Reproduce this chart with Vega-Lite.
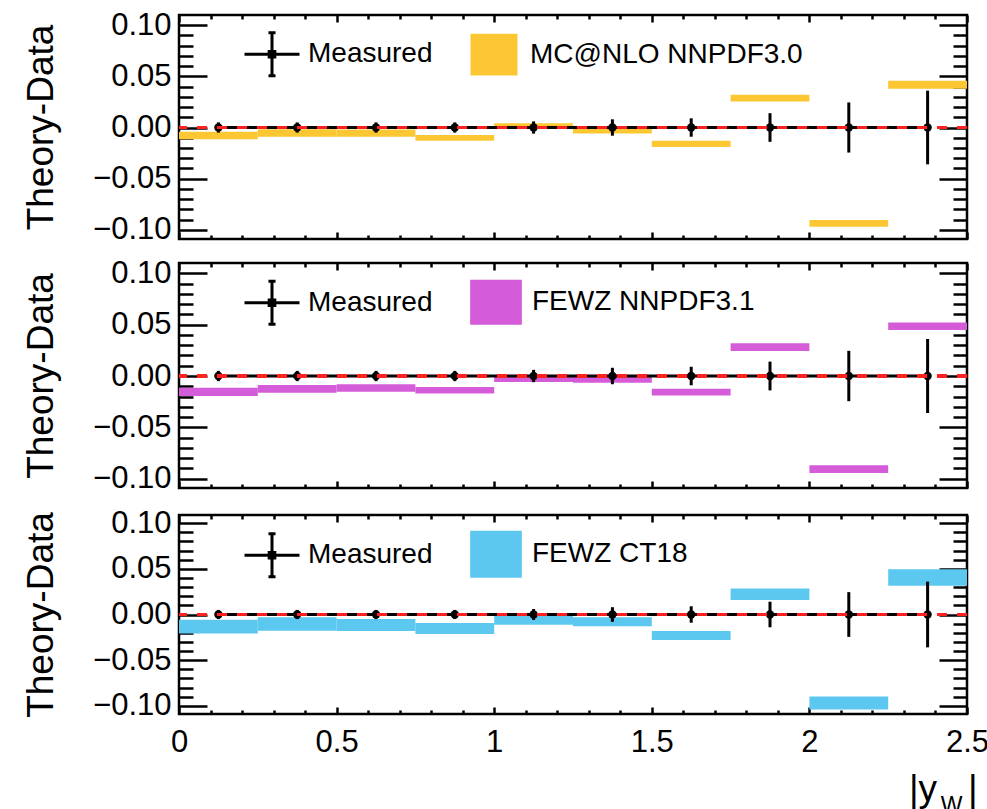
{
  "$schema": "https://vega.github.io/schema/vega-lite/v6.json",
  "background": "white",
  "padding": {"left": 20, "top": 7, "right": 0, "bottom": 0},
  "spacing": 9,
  "resolve": {"scale": {"color": "independent"}, "legend": {"color": "independent"}},
  "config": {
    "font": "Liberation Sans",
    "view": {"stroke": "black", "strokeWidth": 2.5},
    "axis": {"domain": false, "grid": false, "tickColor": "black", "tickWidth": 2.5, "labelFont": "Liberation Sans", "labelColor": "black", "titleFont": "Liberation Sans", "titleColor": "black", "titleFontWeight": "normal", "labelOverlap": false, "labelFlush": false, "labelBound": false},
    "legend": {"labelFont": "Liberation Sans", "labelColor": "black", "labelLimit": 0}
  },
  "datasets": {
    "mc": [
      {"model": "MC@NLO NNPDF3.0", "xlo": 0, "xhi": 0.25, "xc": 0.125, "tlo": -0.0115, "thi": -0.0042, "meas": 0, "elo": -0.005, "ehi": 0.005},
      {"model": "MC@NLO NNPDF3.0", "xlo": 0.25, "xhi": 0.5, "xc": 0.375, "tlo": -0.0091, "thi": -0.0017, "meas": 0, "elo": -0.005, "ehi": 0.005},
      {"model": "MC@NLO NNPDF3.0", "xlo": 0.5, "xhi": 0.75, "xc": 0.625, "tlo": -0.009, "thi": -0.002, "meas": 0, "elo": -0.005, "ehi": 0.005},
      {"model": "MC@NLO NNPDF3.0", "xlo": 0.75, "xhi": 1.0, "xc": 0.875, "tlo": -0.013, "thi": -0.0072, "meas": 0, "elo": -0.005, "ehi": 0.005},
      {"model": "MC@NLO NNPDF3.0", "xlo": 1.0, "xhi": 1.25, "xc": 1.125, "tlo": -0.001, "thi": 0.0042, "meas": 0, "elo": -0.006, "ehi": 0.006},
      {"model": "MC@NLO NNPDF3.0", "xlo": 1.25, "xhi": 1.5, "xc": 1.375, "tlo": -0.0058, "thi": -0.0003, "meas": 0, "elo": -0.008, "ehi": 0.008},
      {"model": "MC@NLO NNPDF3.0", "xlo": 1.5, "xhi": 1.75, "xc": 1.625, "tlo": -0.019, "thi": -0.013, "meas": 0, "elo": -0.009, "ehi": 0.009},
      {"model": "MC@NLO NNPDF3.0", "xlo": 1.75, "xhi": 2.0, "xc": 1.875, "tlo": 0.0255, "thi": 0.032, "meas": 0, "elo": -0.014, "ehi": 0.014},
      {"model": "MC@NLO NNPDF3.0", "xlo": 2.0, "xhi": 2.25, "xc": 2.125, "tlo": -0.097, "thi": -0.0905, "meas": 0, "elo": -0.0245, "ehi": 0.0245},
      {"model": "MC@NLO NNPDF3.0", "xlo": 2.25, "xhi": 2.5, "xc": 2.375, "tlo": 0.038, "thi": 0.0458, "meas": 0, "elo": -0.036, "ehi": 0.036}
    ],
    "nn": [
      {"model": "FEWZ NNPDF3.1", "xlo": 0, "xhi": 0.25, "xc": 0.125, "tlo": -0.0195, "thi": -0.0114, "meas": 0, "elo": -0.005, "ehi": 0.005},
      {"model": "FEWZ NNPDF3.1", "xlo": 0.25, "xhi": 0.5, "xc": 0.375, "tlo": -0.0163, "thi": -0.0088, "meas": 0, "elo": -0.005, "ehi": 0.005},
      {"model": "FEWZ NNPDF3.1", "xlo": 0.5, "xhi": 0.75, "xc": 0.625, "tlo": -0.0153, "thi": -0.0081, "meas": 0, "elo": -0.005, "ehi": 0.005},
      {"model": "FEWZ NNPDF3.1", "xlo": 0.75, "xhi": 1.0, "xc": 0.875, "tlo": -0.017, "thi": -0.0107, "meas": 0, "elo": -0.005, "ehi": 0.005},
      {"model": "FEWZ NNPDF3.1", "xlo": 1.0, "xhi": 1.25, "xc": 1.125, "tlo": -0.0059, "thi": -0.0007, "meas": 0, "elo": -0.006, "ehi": 0.006},
      {"model": "FEWZ NNPDF3.1", "xlo": 1.25, "xhi": 1.5, "xc": 1.375, "tlo": -0.0065, "thi": -0.0007, "meas": 0, "elo": -0.008, "ehi": 0.008},
      {"model": "FEWZ NNPDF3.1", "xlo": 1.5, "xhi": 1.75, "xc": 1.625, "tlo": -0.019, "thi": -0.0124, "meas": 0, "elo": -0.009, "ehi": 0.009},
      {"model": "FEWZ NNPDF3.1", "xlo": 1.75, "xhi": 2.0, "xc": 1.875, "tlo": 0.0244, "thi": 0.032, "meas": 0, "elo": -0.014, "ehi": 0.014},
      {"model": "FEWZ NNPDF3.1", "xlo": 2.0, "xhi": 2.25, "xc": 2.125, "tlo": -0.0943, "thi": -0.0868, "meas": 0, "elo": -0.0245, "ehi": 0.0245},
      {"model": "FEWZ NNPDF3.1", "xlo": 2.25, "xhi": 2.5, "xc": 2.375, "tlo": 0.0449, "thi": 0.052, "meas": 0, "elo": -0.036, "ehi": 0.036}
    ],
    "ct": [
      {"model": "FEWZ CT18", "xlo": 0, "xhi": 0.25, "xc": 0.125, "tlo": -0.0208, "thi": -0.0058, "meas": 0, "elo": -0.005, "ehi": 0.005},
      {"model": "FEWZ CT18", "xlo": 0.25, "xhi": 0.5, "xc": 0.375, "tlo": -0.0179, "thi": -0.003, "meas": 0, "elo": -0.005, "ehi": 0.005},
      {"model": "FEWZ CT18", "xlo": 0.5, "xhi": 0.75, "xc": 0.625, "tlo": -0.018, "thi": -0.005, "meas": 0, "elo": -0.005, "ehi": 0.005},
      {"model": "FEWZ CT18", "xlo": 0.75, "xhi": 1.0, "xc": 0.875, "tlo": -0.0213, "thi": -0.0092, "meas": 0, "elo": -0.005, "ehi": 0.005},
      {"model": "FEWZ CT18", "xlo": 1.0, "xhi": 1.25, "xc": 1.125, "tlo": -0.0113, "thi": -0.0011, "meas": 0, "elo": -0.006, "ehi": 0.006},
      {"model": "FEWZ CT18", "xlo": 1.25, "xhi": 1.5, "xc": 1.375, "tlo": -0.013, "thi": -0.003, "meas": 0, "elo": -0.008, "ehi": 0.008},
      {"model": "FEWZ CT18", "xlo": 1.5, "xhi": 1.75, "xc": 1.625, "tlo": -0.028, "thi": -0.018, "meas": 0, "elo": -0.009, "ehi": 0.009},
      {"model": "FEWZ CT18", "xlo": 1.75, "xhi": 2.0, "xc": 1.875, "tlo": 0.016, "thi": 0.0286, "meas": 0, "elo": -0.014, "ehi": 0.014},
      {"model": "FEWZ CT18", "xlo": 2.0, "xhi": 2.25, "xc": 2.125, "tlo": -0.104, "thi": -0.0897, "meas": 0, "elo": -0.0245, "ehi": 0.0245},
      {"model": "FEWZ CT18", "xlo": 2.25, "xhi": 2.5, "xc": 2.375, "tlo": 0.0314, "thi": 0.0496, "meas": 0, "elo": -0.036, "ehi": 0.036}
    ]
  },
  "vconcat": [
    {
      "width": 788, "height": 224,
      "data": {"name": "mc"},
      "resolve": {"axis": {"x": "independent", "y": "independent"}},
      "layer": [
        {"mark": {"type": "rect"},
         "encoding": {
           "x": {"field": "xlo", "type": "quantitative", "scale": {"domain": [0, 2.5], "nice": false, "zero": false},
                 "axis": {"orient": "bottom", "values": [0,0.1,0.2,0.3,0.4,0.5,0.6,0.7,0.8,0.9,1,1.1,1.2,1.3,1.4,1.5,1.6,1.7,1.8,1.9,2,2.1,2.2,2.3,2.4,2.5], "labels": false, "title": null,
                          "tickSize": {"condition": {"test": "abs(datum.value*2 - round(datum.value*2)) < 0.001", "value": -7}, "value": -4}}},
           "x2": {"field": "xhi"},
           "y": {"field": "tlo", "type": "quantitative", "scale": {"domain": [-0.109, 0.11], "nice": false, "zero": false},
                 "axis": {"orient": "left", "values": [-0.1,-0.09,-0.08,-0.07,-0.06,-0.05,-0.04,-0.03,-0.02,-0.01,0,0.01,0.02,0.03,0.04,0.05,0.06,0.07,0.08,0.09,0.1],
                          "tickSize": {"condition": {"test": "abs(datum.value*20 - round(datum.value*20)) < 0.001", "value": -28}, "value": -14},
                          "labelExpr": "abs(datum.value*20 - round(datum.value*20)) < 0.001 ? format(datum.value, '.2f') : ''",
                          "labelFontSize": 31, "labelPadding": 36,
                          "title": "Theory-Data", "titleFontSize": 37, "titleX": -127, "titleBaseline": "alphabetic", "titleAngle": 270}},
           "y2": {"field": "thi"},
           "color": {"field": "model", "type": "nominal",
                     "scale": {"domain": ["Measured", "MC@NLO NNPDF3.0"], "range": ["black", "#fcc733"]},
                     "legend": {"title": null, "orient": "none", "legendX": 68, "legendY": 14, "direction": "horizontal", "padding": 0,
                                "symbolSize": 2209, "labelFontSize": 28, "labelOffset": 11, "columnPadding": 31, "symbolStrokeWidth": 3,
                                "encode": {"symbols": {"update": {
                                  "shape": {"signal": "datum.value === 'Measured' ? 'M-1.17,0H1.17M0,-0.915V0.915M-0.15,-0.915H0.15M-0.15,0.915H0.15M-0.12,-0.12H0.12V0.12H-0.12Z' : 'M-1,-0.89H1V0.89H-1Z'"},
                                  "stroke": {"signal": "datum.value === 'Measured' ? 'black' : 'transparent'"},
                                  "strokeWidth": {"value": 3},
                                  "fill": {"signal": "datum.value === 'Measured' ? 'black' : '#fcc733'"},
                                  "opacity": {"value": 1}, "fillOpacity": {"value": 1}}}}}}
         }},
        {"mark": {"type": "rule", "color": "black", "strokeWidth": 3},
         "encoding": {
           "x": {"field": "xc", "type": "quantitative",
                 "axis": {"orient": "top", "values": [0,0.1,0.2,0.3,0.4,0.5,0.6,0.7,0.8,0.9,1,1.1,1.2,1.3,1.4,1.5,1.6,1.7,1.8,1.9,2,2.1,2.2,2.3,2.4,2.5], "labels": false, "title": null,
                          "tickSize": {"condition": {"test": "abs(datum.value*2 - round(datum.value*2)) < 0.001", "value": -7}, "value": -4}}},
           "y": {"field": "elo", "type": "quantitative",
                 "axis": {"orient": "right", "values": [-0.1,-0.09,-0.08,-0.07,-0.06,-0.05,-0.04,-0.03,-0.02,-0.01,0,0.01,0.02,0.03,0.04,0.05,0.06,0.07,0.08,0.09,0.1], "labels": false, "title": null,
                          "tickSize": {"condition": {"test": "abs(datum.value*20 - round(datum.value*20)) < 0.001", "value": -28}, "value": -14}}},
           "y2": {"field": "ehi"}
         }},
        {"mark": {"type": "line", "color": "black", "strokeWidth": 3},
         "encoding": {"x": {"field": "xc", "type": "quantitative", "axis": null}, "y": {"field": "meas", "type": "quantitative", "axis": null}}},
        {"mark": {"type": "point", "filled": true, "color": "black", "size": 70, "opacity": 1},
         "encoding": {"x": {"field": "xc", "type": "quantitative", "axis": null}, "y": {"field": "meas", "type": "quantitative", "axis": null}}},
        {"mark": {"type": "rule", "color": "#ff2020", "strokeWidth": 3, "strokeDash": [10, 10]},
         "encoding": {"y": {"datum": 0, "type": "quantitative", "axis": null}}}
      ]
    },
    {
      "width": 788, "height": 225,
      "data": {"name": "nn"},
      "resolve": {"axis": {"x": "independent", "y": "independent"}},
      "layer": [
        {"mark": {"type": "rect"},
         "encoding": {
           "x": {"field": "xlo", "type": "quantitative", "scale": {"domain": [0, 2.5], "nice": false, "zero": false},
                 "axis": {"orient": "bottom", "values": [0,0.1,0.2,0.3,0.4,0.5,0.6,0.7,0.8,0.9,1,1.1,1.2,1.3,1.4,1.5,1.6,1.7,1.8,1.9,2,2.1,2.2,2.3,2.4,2.5], "labels": false, "title": null,
                          "tickSize": {"condition": {"test": "abs(datum.value*2 - round(datum.value*2)) < 0.001", "value": -7}, "value": -4}}},
           "x2": {"field": "xhi"},
           "y": {"field": "tlo", "type": "quantitative", "scale": {"domain": [-0.109, 0.11], "nice": false, "zero": false},
                 "axis": {"orient": "left", "values": [-0.1,-0.09,-0.08,-0.07,-0.06,-0.05,-0.04,-0.03,-0.02,-0.01,0,0.01,0.02,0.03,0.04,0.05,0.06,0.07,0.08,0.09,0.1],
                          "tickSize": {"condition": {"test": "abs(datum.value*20 - round(datum.value*20)) < 0.001", "value": -28}, "value": -14},
                          "labelExpr": "abs(datum.value*20 - round(datum.value*20)) < 0.001 ? format(datum.value, '.2f') : ''",
                          "labelFontSize": 31, "labelPadding": 36,
                          "title": "Theory-Data", "titleFontSize": 37, "titleX": -127, "titleBaseline": "alphabetic", "titleAngle": 270}},
           "y2": {"field": "thi"},
           "color": {"field": "model", "type": "nominal",
                     "scale": {"domain": ["Measured", "FEWZ NNPDF3.1"], "range": ["black", "#d45cd8"]},
                     "legend": {"title": null, "orient": "none", "legendX": 68, "legendY": 14, "direction": "horizontal", "padding": 0,
                                "symbolSize": 2209, "labelFontSize": 28, "labelOffset": 11, "columnPadding": 31, "symbolStrokeWidth": 3,
                                "encode": {"symbols": {"update": {
                                  "shape": {"signal": "datum.value === 'Measured' ? 'M-1.17,0H1.17M0,-0.915V0.915M-0.15,-0.915H0.15M-0.15,0.915H0.15M-0.12,-0.12H0.12V0.12H-0.12Z' : 'M-1.1,-0.96H1.1V0.96H-1.1Z'"},
                                  "stroke": {"signal": "datum.value === 'Measured' ? 'black' : 'transparent'"},
                                  "strokeWidth": {"value": 3},
                                  "fill": {"signal": "datum.value === 'Measured' ? 'black' : '#d45cd8'"},
                                  "opacity": {"value": 1}, "fillOpacity": {"value": 1}}}}}}
         }},
        {"mark": {"type": "rule", "color": "black", "strokeWidth": 3},
         "encoding": {
           "x": {"field": "xc", "type": "quantitative",
                 "axis": {"orient": "top", "values": [0,0.1,0.2,0.3,0.4,0.5,0.6,0.7,0.8,0.9,1,1.1,1.2,1.3,1.4,1.5,1.6,1.7,1.8,1.9,2,2.1,2.2,2.3,2.4,2.5], "labels": false, "title": null,
                          "tickSize": {"condition": {"test": "abs(datum.value*2 - round(datum.value*2)) < 0.001", "value": -7}, "value": -4}}},
           "y": {"field": "elo", "type": "quantitative",
                 "axis": {"orient": "right", "values": [-0.1,-0.09,-0.08,-0.07,-0.06,-0.05,-0.04,-0.03,-0.02,-0.01,0,0.01,0.02,0.03,0.04,0.05,0.06,0.07,0.08,0.09,0.1], "labels": false, "title": null,
                          "tickSize": {"condition": {"test": "abs(datum.value*20 - round(datum.value*20)) < 0.001", "value": -28}, "value": -14}}},
           "y2": {"field": "ehi"}
         }},
        {"mark": {"type": "line", "color": "black", "strokeWidth": 3},
         "encoding": {"x": {"field": "xc", "type": "quantitative", "axis": null}, "y": {"field": "meas", "type": "quantitative", "axis": null}}},
        {"mark": {"type": "point", "filled": true, "color": "black", "size": 70, "opacity": 1},
         "encoding": {"x": {"field": "xc", "type": "quantitative", "axis": null}, "y": {"field": "meas", "type": "quantitative", "axis": null}}},
        {"mark": {"type": "rule", "color": "#ff2020", "strokeWidth": 3, "strokeDash": [10, 10]},
         "encoding": {"y": {"datum": 0, "type": "quantitative", "axis": null}}}
      ]
    },
    {
      "width": 788, "height": 199,
      "data": {"name": "ct"},
      "resolve": {"axis": {"x": "independent", "y": "independent"}},
      "layer": [
        {"mark": {"type": "rect"},
         "encoding": {
           "x": {"field": "xlo", "type": "quantitative", "scale": {"domain": [0, 2.5], "nice": false, "zero": false},
                 "axis": {"orient": "bottom", "values": [0,0.1,0.2,0.3,0.4,0.5,0.6,0.7,0.8,0.9,1,1.1,1.2,1.3,1.4,1.5,1.6,1.7,1.8,1.9,2,2.1,2.2,2.3,2.4,2.5],
                          "tickSize": {"condition": {"test": "abs(datum.value*2 - round(datum.value*2)) < 0.001", "value": -7}, "value": -4},
                          "labelExpr": "abs(datum.value*2 - round(datum.value*2)) < 0.001 ? format(datum.value, '~g') : ''",
                          "labelFontSize": 31, "labelPadding": 20,
                          "title": "|y\u00a0\u00a0\u00a0|", "titleFontSize": 37, "titleX": 798, "titleAlign": "right", "titleY": 86, "titleBaseline": "alphabetic"}},
           "x2": {"field": "xhi"},
           "y": {"field": "tlo", "type": "quantitative", "scale": {"domain": [-0.109, 0.109], "nice": false, "zero": false},
                 "axis": {"orient": "left", "values": [-0.1,-0.09,-0.08,-0.07,-0.06,-0.05,-0.04,-0.03,-0.02,-0.01,0,0.01,0.02,0.03,0.04,0.05,0.06,0.07,0.08,0.09,0.1],
                          "tickSize": {"condition": {"test": "abs(datum.value*20 - round(datum.value*20)) < 0.001", "value": -28}, "value": -14},
                          "labelExpr": "abs(datum.value*20 - round(datum.value*20)) < 0.001 ? format(datum.value, '.2f') : ''",
                          "labelFontSize": 31, "labelPadding": 36,
                          "title": "Theory-Data", "titleFontSize": 37, "titleX": -127, "titleBaseline": "alphabetic", "titleAngle": 270}},
           "y2": {"field": "thi"},
           "color": {"field": "model", "type": "nominal",
                     "scale": {"domain": ["Measured", "FEWZ CT18"], "range": ["black", "#5cc8f0"]},
                     "legend": {"title": null, "orient": "none", "legendX": 68, "legendY": 14, "direction": "horizontal", "padding": 0,
                                "symbolSize": 2209, "labelFontSize": 28, "labelOffset": 11, "columnPadding": 31, "symbolStrokeWidth": 3,
                                "encode": {"symbols": {"update": {
                                  "shape": {"signal": "datum.value === 'Measured' ? 'M-1.17,0H1.17M0,-0.915V0.915M-0.15,-0.915H0.15M-0.15,0.915H0.15M-0.12,-0.12H0.12V0.12H-0.12Z' : 'M-1.1,-1H1.1V1H-1.1Z'"},
                                  "stroke": {"signal": "datum.value === 'Measured' ? 'black' : 'transparent'"},
                                  "strokeWidth": {"value": 3},
                                  "fill": {"signal": "datum.value === 'Measured' ? 'black' : '#5cc8f0'"},
                                  "opacity": {"value": 1}, "fillOpacity": {"value": 1}}}}}}
         }},
        {"mark": {"type": "rule", "color": "black", "strokeWidth": 3},
         "encoding": {
           "x": {"field": "xc", "type": "quantitative",
                 "axis": {"orient": "top", "values": [0,0.1,0.2,0.3,0.4,0.5,0.6,0.7,0.8,0.9,1,1.1,1.2,1.3,1.4,1.5,1.6,1.7,1.8,1.9,2,2.1,2.2,2.3,2.4,2.5], "labels": false,
                          "tickSize": {"condition": {"test": "abs(datum.value*2 - round(datum.value*2)) < 0.001", "value": -7}, "value": -4},
                          "title": "W", "titleFontSize": 23, "titleX": 772, "titleAlign": "center", "titleY": 297, "titleBaseline": "alphabetic"}},
           "y": {"field": "elo", "type": "quantitative",
                 "axis": {"orient": "right", "values": [-0.1,-0.09,-0.08,-0.07,-0.06,-0.05,-0.04,-0.03,-0.02,-0.01,0,0.01,0.02,0.03,0.04,0.05,0.06,0.07,0.08,0.09,0.1], "labels": false, "title": null,
                          "tickSize": {"condition": {"test": "abs(datum.value*20 - round(datum.value*20)) < 0.001", "value": -28}, "value": -14}}},
           "y2": {"field": "ehi"}
         }},
        {"mark": {"type": "line", "color": "black", "strokeWidth": 3},
         "encoding": {"x": {"field": "xc", "type": "quantitative", "axis": null}, "y": {"field": "meas", "type": "quantitative", "axis": null}}},
        {"mark": {"type": "point", "filled": true, "color": "black", "size": 70, "opacity": 1},
         "encoding": {"x": {"field": "xc", "type": "quantitative", "axis": null}, "y": {"field": "meas", "type": "quantitative", "axis": null}}},
        {"mark": {"type": "rule", "color": "#ff2020", "strokeWidth": 3, "strokeDash": [10, 10]},
         "encoding": {"y": {"datum": 0, "type": "quantitative", "axis": null}}}
      ]
    }
  ]
}
